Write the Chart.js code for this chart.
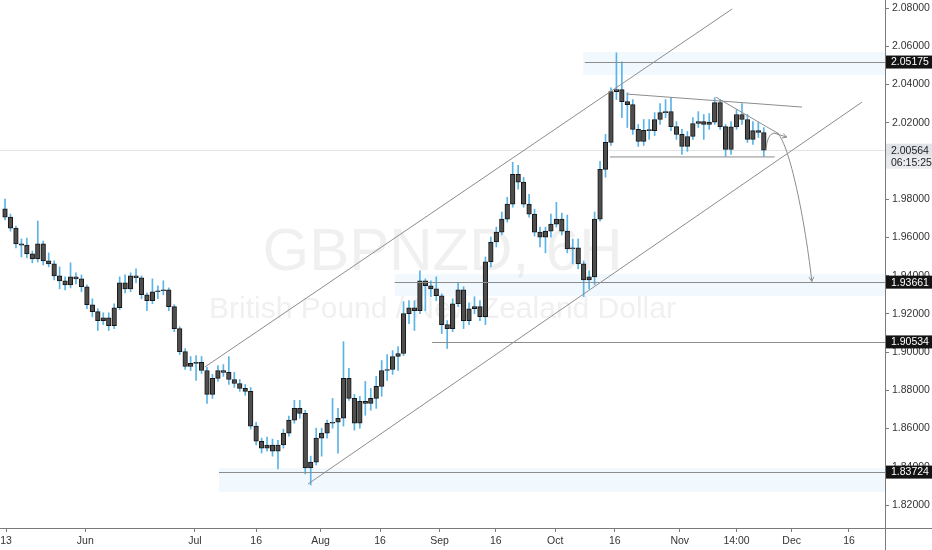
<!DOCTYPE html>
<html>
<head>
<meta charset="utf-8">
<title>GBPNZD, 6H</title>
<script src="https://cdn.jsdelivr.net/npm/chart.js@4.4.1/dist/chart.umd.min.js"></script>
<style>
    html, body { margin : 0; padding : 0; background : #ffffff; }
    canvas { display : block; }
</style>
</head>
<body>
<canvas id="gbpnzd" width="932" height="550"></canvas>
<script>
// one candle per trading day (13 May - 22 Nov)
const firstOpen = 1.9750
const closes = [
    1.9706, 1.9649, 1.9566, 1.9560, 1.9514, 1.9488, 1.9566, 1.9477, 1.9462, 1.9399,
    1.9373, 1.9352, 1.9394, 1.9383, 1.9342, 1.9248, 1.9212, 1.9165, 1.9180, 1.9139,
    1.9232, 1.9363, 1.9331, 1.9399, 1.9389, 1.9300, 1.9269, 1.9316, 1.9321, 1.9326,
    1.9238, 1.9123, 1.9003, 1.8925, 1.8941, 1.8946, 1.8904, 1.8779, 1.8863, 1.8904,
    1.8894, 1.8857, 1.8836, 1.8810, 1.8795, 1.8613, 1.8534, 1.8498, 1.8514, 1.8482,
    1.8514, 1.8576, 1.8644, 1.8706, 1.8680, 1.8394, 1.8425, 1.8550, 1.8576, 1.8628,
    1.8633, 1.8654, 1.8863, 1.8758, 1.8628, 1.8743, 1.8732, 1.8758, 1.8821, 1.8904,
    1.8909, 1.8977, 1.8993, 1.9201, 1.9232, 1.9217, 1.9373, 1.9347, 1.9331, 1.9295,
    1.9144, 1.9123, 1.9253, 1.9326, 1.9165, 1.9227, 1.9238, 1.9185, 1.9472, 1.9576,
    1.9628, 1.9696, 1.9774, 1.9930, 1.9889, 1.9774, 1.9722, 1.9628, 1.9602, 1.9633,
    1.9670, 1.9696, 1.9633, 1.9540, 1.9545, 1.9462, 1.9378, 1.9394, 1.9696, 1.9956,
    2.0097, 2.0363, 2.0373, 2.0310, 2.0295, 2.0165, 2.0102, 2.0160, 2.0159, 2.0217,
    2.0253, 2.0258, 2.0180, 2.0139, 2.0076, 2.0128, 2.0196, 2.0206, 2.0191, 2.0203,
    2.0305, 2.0180, 2.0060, 2.0178, 2.0243, 2.0217, 2.0113, 2.0159, 2.0149, 2.0056,
]
const highs = [
    1.9800, 1.9722, 1.9660, 1.9592, 1.9597, 1.9529, 1.9686, 1.9581, 1.9519, 1.9477,
    1.9446, 1.9394, 1.9467, 1.9415, 1.9404, 1.9352, 1.9279, 1.9227, 1.9206, 1.9206,
    1.9253, 1.9394, 1.9404, 1.9415, 1.9436, 1.9399, 1.9310, 1.9383, 1.9347, 1.9373,
    1.9336, 1.9248, 1.9133, 1.9019, 1.8977, 1.8982, 1.8977, 1.8920, 1.8884, 1.8930,
    1.8935, 1.8977, 1.8894, 1.8857, 1.8831, 1.8815, 1.8633, 1.8550, 1.8555, 1.8545,
    1.8539, 1.8597, 1.8665, 1.8748, 1.8748, 1.8696, 1.8456, 1.8602, 1.8602, 1.8644,
    1.8758, 1.8706, 1.9055, 1.8915, 1.8779, 1.8769, 1.8847, 1.8810, 1.8873, 1.8956,
    1.8987, 1.9008, 1.9029, 1.9264, 1.9269, 1.9269, 1.9425, 1.9383, 1.9373, 1.9394,
    1.9305, 1.9165, 1.9279, 1.9363, 1.9342, 1.9258, 1.9290, 1.9269, 1.9498, 1.9602,
    1.9654, 1.9733, 1.9810, 1.9993, 1.9977, 1.9915, 1.9826, 1.9748, 1.9654, 1.9654,
    1.9722, 1.9784, 1.9727, 1.9717, 1.9592, 1.9592, 1.9477, 1.9425, 1.9733, 1.9998,
    2.0139, 2.0383, 2.0566, 2.0519, 2.0357, 2.0321, 2.0191, 2.0217, 2.0217, 2.0253,
    2.0300, 2.0321, 2.0331, 2.0206, 2.0165, 2.0154, 2.0227, 2.0258, 2.0243, 2.0248,
    2.0331, 2.0321, 2.0191, 2.0206, 2.0269, 2.0300, 2.0243, 2.0206, 2.0201, 2.0175,
]
const lows = [
    1.9691, 1.9633, 1.9545, 1.9498, 1.9493, 1.9467, 1.9472, 1.9456, 1.9446, 1.9378,
    1.9331, 1.9326, 1.9336, 1.9357, 1.9316, 1.9227, 1.9185, 1.9113, 1.9144, 1.9113,
    1.9123, 1.9222, 1.9310, 1.9316, 1.9363, 1.9279, 1.9217, 1.9253, 1.9279, 1.9300,
    1.9217, 1.9107, 1.8987, 1.8909, 1.8904, 1.8852, 1.8888, 1.8732, 1.8758, 1.8847,
    1.8873, 1.8831, 1.8815, 1.8795, 1.8774, 1.8597, 1.8514, 1.8472, 1.8482, 1.8456,
    1.8389, 1.8498, 1.8561, 1.8628, 1.8654, 1.8363, 1.8305, 1.8409, 1.8456, 1.8550,
    1.8602, 1.8472, 1.8613, 1.8748, 1.8592, 1.8602, 1.8670, 1.8696, 1.8706, 1.8769,
    1.8852, 1.8883, 1.8904, 1.8982, 1.9149, 1.9113, 1.9201, 1.9217, 1.9290, 1.9269,
    1.9097, 1.9019, 1.9107, 1.9238, 1.9123, 1.9144, 1.9201, 1.9165, 1.9144, 1.9446,
    1.9550, 1.9613, 1.9680, 1.9758, 1.9852, 1.9758, 1.9706, 1.9607, 1.9550, 1.9519,
    1.9602, 1.9654, 1.9613, 1.9519, 1.9462, 1.9436, 1.9290, 1.9331, 1.9352, 1.9685,
    1.9915, 2.0081, 2.0321, 2.0227, 2.0175, 2.0139, 2.0076, 2.0081, 2.0113, 2.0133,
    2.0191, 2.0227, 2.0159, 2.0113, 2.0034, 2.0050, 2.0113, 2.0175, 2.0113, 2.0165,
    2.0191, 2.0165, 2.0024, 2.0034, 2.0165, 2.0191, 2.0097, 2.0087, 2.0123, 2.0024,
]

const priceTicks = [1.82, 1.84, 1.86, 1.88, 1.90, 1.92, 1.94, 1.96, 1.98, 2.00, 2.02, 2.04, 2.06, 2.08]
const timeTicks = [0.2, 14.7, 34.8, 46, 57.8, 68.7, 79.6, 89.9, 100.8, 111.7, 123.6, 134, 144.1, 154.6]
const timeLabels = ["13", "Jun", "Jul", "16", "Aug", "16", "Sep", "16", "Oct", "16", "Nov", "14:00", "Dec", "16"]

const levels = [2.05175, 1.93661, 1.90534, 1.83724]
const lastPrice = 2.00564
const countdown = "06:15:25"
const symbol = "GBPNZD, 6H"
const description = "British Pound / New Zealand Dollar"

// drawings, given as (bar index, price)
const levelStarts = [106.2, 71.4, 78.2, 39.2]
const zones = [[105.9, 2.0570, 2.0450], [71.4, 1.9408, 1.9293], [39.2, 1.8394, 1.8268]]
const trendLines = [
    [36.6, 1.8922, 133.2, 2.0795],
    [55.5, 1.8310, 157.0, 2.0308],
    [113.9, 2.0350, 146.0, 2.0282],
    [110.8, 2.0021, 141.0, 2.0021],
    [130.2, 2.0334, 141.8, 2.0141],
]
const smallArrow = [[139.4, 2.0057], [139.6, 2.0141], [140.85, 2.0146], [143.2, 2.0125]]
const bigArrow = [[141.4, 2.0146], [143.4, 2.0110], [146.3, 1.9743], [147.8, 1.9370]]

const opens = closes.map((c, i) => i === 0 ? firstOpen : closes[i - 1])
const bodies = closes.map((c, i) => ({ x : i, y : [opens[i], c] }))
const wicks = closes.map((c, i) => ({ x : i, y : [lows[i], highs[i]] }))

const axisFont = { family : "'Liberation Sans Narrow', 'Liberation Sans', Arial, sans-serif", size : 10.5 }

const arrowHead = (ctx, x, y, angle, size) => {
    ctx.beginPath()
    ctx.moveTo(x - size * Math.cos(angle - 0.5), y - size * Math.sin(angle - 0.5))
    ctx.lineTo(x, y)
    ctx.lineTo(x - size * Math.cos(angle + 0.5), y - size * Math.sin(angle + 0.5))
    ctx.stroke()
}

const drawings = {
    id : "drawings",
    beforeDatasetsDraw : chart => {
        const { ctx, chartArea : area, scales : { x, y } } = chart
        ctx.save()
        ctx.beginPath()
        ctx.rect(area.left, area.top, area.right - area.left, area.bottom - area.top)
        ctx.clip()

        ctx.fillStyle = "rgba(33, 150, 243, 0.06)"
        zones.forEach(([from, top, bottom]) => {
            const y1 = y.getPixelForValue(top)
            ctx.fillRect(x.getPixelForValue(from), y1, area.right - x.getPixelForValue(from), y.getPixelForValue(bottom) - y1)
        })

        ctx.strokeStyle = "#e4e4e4"
        ctx.lineWidth = 1
        ctx.beginPath()
        ctx.moveTo(area.left, Math.round(y.getPixelForValue(lastPrice)) + 0.5)
        ctx.lineTo(area.right, Math.round(y.getPixelForValue(lastPrice)) + 0.5)
        ctx.stroke()

        const cx = (area.left + area.right) / 2
        ctx.fillStyle = "rgba(120, 120, 130, 0.11)"
        ctx.textAlign = "center"
        ctx.textBaseline = "alphabetic"
        ctx.font = "60px 'Liberation Sans', Arial, sans-serif"
        ctx.fillText(symbol, cx, 270)
        ctx.font = "30px 'Liberation Sans', Arial, sans-serif"
        ctx.fillText(description, cx, 318)
        ctx.restore()
    },
    afterDatasetsDraw : chart => {
        const { ctx, chartArea : area, scales : { x, y } } = chart
        const pt = ([i, p]) => [x.getPixelForValue(i), y.getPixelForValue(p)]
        ctx.save()
        ctx.beginPath()
        ctx.rect(area.left, area.top, area.right - area.left, area.bottom - area.top)
        ctx.clip()
        ctx.lineWidth = 1
        ctx.strokeStyle = "#8c8c8c"

        levels.forEach((level, k) => {
            const ly = Math.round(y.getPixelForValue(level)) + 0.5
            ctx.beginPath()
            ctx.moveTo(x.getPixelForValue(levelStarts[k]), ly)
            ctx.lineTo(area.right, ly)
            ctx.stroke()
        })

        trendLines.forEach(([i1, p1, i2, p2]) => {
            ctx.beginPath()
            ctx.moveTo(x.getPixelForValue(i1), y.getPixelForValue(p1))
            ctx.lineTo(x.getPixelForValue(i2), y.getPixelForValue(p2))
            ctx.stroke()
        })

        const s = smallArrow.map(pt)
        ctx.beginPath()
        ctx.moveTo(...s[0])
        ctx.quadraticCurveTo(...s[1], ...s[2])
        ctx.lineTo(...s[3])
        ctx.stroke()
        arrowHead(ctx, s[3][0], s[3][1], Math.atan2(s[3][1] - s[2][1], s[3][0] - s[2][0]), 5)

        const b = bigArrow.map(pt)
        ctx.beginPath()
        ctx.moveTo(...b[0])
        ctx.bezierCurveTo(...b[1], ...b[2], ...b[3])
        ctx.stroke()
        arrowHead(ctx, b[3][0], b[3][1], Math.atan2(b[3][1] - b[2][1], b[3][0] - b[2][0]), 5)
        ctx.restore()
    },
    afterDraw : chart => {
        const { ctx, chartArea : area, scales : { y }, width, height } = chart
        ctx.save()
        ctx.strokeStyle = "#7a7a7a"
        ctx.lineWidth = 1
        ctx.beginPath()
        ctx.moveTo(0, Math.round(area.bottom) + 0.5)
        ctx.lineTo(width, Math.round(area.bottom) + 0.5)
        ctx.moveTo(Math.round(area.right) + 0.5, 0)
        ctx.lineTo(Math.round(area.right) + 0.5, height)
        ctx.stroke()

        ctx.font = "10.5px " + axisFont.family
        ctx.textAlign = "left"
        ctx.textBaseline = "middle"
        const tag = (text, ty, bg, fg) => {
            ctx.fillStyle = bg
            ctx.fillRect(area.right + 1, ty - 6.5, width - area.right - 1, 13)
            ctx.fillStyle = fg
            ctx.fillText(text, area.right + 6, ty + 0.5)
        }
        levels.forEach(level => tag(level.toFixed(5), y.getPixelForValue(level), "#131313", "#ffffff"))
        const lp = y.getPixelForValue(lastPrice)
        tag(lastPrice.toFixed(5), lp, "#e0e3e8", "#222222")
        tag(countdown, lp + 12, "#e9ebef", "#222222")
        ctx.restore()
    },
}

new Chart(document.getElementById("gbpnzd").getContext("2d"), {
    type : "bar",
    data : {
        datasets : [{
            label : "Bodies",
            data : bodies,
            backgroundColor : "#4e4e4e",
            borderColor : "#161616",
            borderWidth : 1,
            borderSkipped : false,
            barThickness : 4.6,
            minBarLength : 1,
            grouped : false,
            order : 1,
        }, {
            label : "Wicks",
            data : wicks,
            backgroundColor : "#5ab4e5",
            barThickness : 1,
            grouped : false,
            order : 2,
        }],
    }, options : {
        responsive : false,
        animation : false,
        layout : { padding : 0 },
        scales : {
            x : {
                type : "linear",
                min : -0.92,
                max : 161.2,
                offset : false,
                afterBuildTicks : scale => { scale.ticks = timeTicks.map(v => ({ value : v })) },
                afterFit : scale => {
                    scale.height = 22
                    scale.paddingLeft = 0
                    scale.paddingRight = 0
                },
                ticks : {
                    autoSkip : false,
                    maxRotation : 0,
                    padding : 3,
                    color : "#333333",
                    font : axisFont,
                    callback : (v, i) => timeLabels[i],
                },
                grid : { offset : false, drawOnChartArea : false, drawTicks : true, tickLength : 4, color : "#7a7a7a" },
                border : { display : false },
            },
            y : {
                position : "right",
                min : 1.8080,
                max : 2.0842,
                afterBuildTicks : scale => { scale.ticks = priceTicks.map(v => ({ value : v })) },
                afterFit : scale => {
                    scale.width = 47
                    scale.paddingTop = 0
                    scale.paddingBottom = 0
                },
                ticks : {
                    padding : 3,
                    color : "#333333",
                    font : axisFont,
                    callback : v => v.toFixed(5),
                },
                grid : { drawOnChartArea : false, drawTicks : true, tickLength : 4, color : "#7a7a7a" },
                border : { display : false },
            },
        }, plugins : {
            legend : { display : false },
            tooltip : { enabled : false },
        },
    },
    plugins : [drawings],
})
</script>
</body>
</html>
